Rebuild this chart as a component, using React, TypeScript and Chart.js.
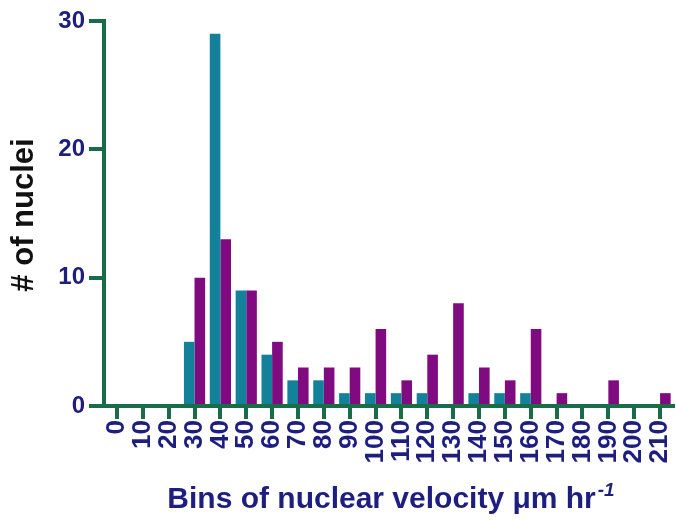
import React, { useEffect, useRef } from "react";
import { Chart, registerables } from "chart.js";

Chart.register(...registerables);

const categories = ["0","10","20","30","40","50","60","70","80","90","100","110","120","130","140","150","160","170","180","190","200","210"];
const seriesTeal = [0,0,0,5,29,9,4,2,2,1,1,1,1,0,1,1,1,0,0,0,0,0];
const seriesPurple = [0,0,0,10,13,9,5,3,3,3,6,2,4,8,3,2,6,1,0,2,0,1];
const yTicks = [0, 10, 20, 30];

const yTitle = "# of nuclei";
const xTitleMain = "Bins of nuclear velocity \u03bcm hr";
const xTitleSup = "-1";

const FONT = "'Liberation Sans', Arial, Helvetica, sans-serif";
const NAVY = "#1e1e80";
const GREEN = "#186c48";
const TEAL = "#13819a";
const PURPLE = "#800a80";

const titlePlugin = {
  id: "customTitles",
  afterDraw(chart: any) {
    const ctx = chart.ctx;
    ctx.save();
    ctx.fillStyle = "#111111";
    ctx.font = `bold 31px ${FONT}`;
    ctx.textAlign = "center";
    ctx.textBaseline = "middle";
    ctx.translate(24, 215);
    ctx.rotate(-Math.PI / 2);
    ctx.fillText(yTitle, 0, 0);
    ctx.restore();

    ctx.save();
    ctx.fillStyle = NAVY;
    ctx.textBaseline = "alphabetic";
    ctx.textAlign = "left";
    ctx.font = `bold 30px ${FONT}`;
    const mainW = ctx.measureText(xTitleMain).width;
    ctx.font = `italic bold 19px ${FONT}`;
    const supW = ctx.measureText(xTitleSup).width;
    const total = mainW + supW + 2;
    const x0 = 391 - total / 2;
    ctx.font = `bold 30px ${FONT}`;
    ctx.fillText(xTitleMain, x0, 508);
    ctx.font = `italic bold 19px ${FONT}`;
    ctx.fillText(xTitleSup, x0 + mainW + 2, 496);
    ctx.restore();
  },
};

export default function App() {
  const ref = useRef<HTMLCanvasElement | null>(null);
  useEffect(() => {
    if (!ref.current) return;
    const chart = new Chart(ref.current, {
      type: "bar",
      data: {
        labels: categories,
        datasets: [
          { data: seriesTeal, backgroundColor: TEAL, borderWidth: 0 },
          { data: seriesPurple, backgroundColor: PURPLE, borderWidth: 0 },
        ],
      },
      plugins: [titlePlugin],
      options: {
        animation: false,
        responsive: false,
        maintainAspectRatio: false,
        layout: { padding: { top: 21, right: 3, left: 0, bottom: 0 } },
        datasets: { bar: { categoryPercentage: 0.82, barPercentage: 1 } },
        plugins: { legend: { display: false }, tooltip: { enabled: false }, title: { display: false } },
        scales: {
          x: {
            offset: true,
            grid: { display: true, drawOnChartArea: false, offset: false, tickLength: 13, lineWidth: 4, color: GREEN },
            border: { display: true, width: 4, color: GREEN },
            ticks: {
              autoSkip: false,
              minRotation: 90,
              maxRotation: 90,
              padding: 1,
              color: NAVY,
              font: { family: FONT, size: 26, weight: "bold" },
            },
            afterFit: (s: any) => {
              s.height = 114;
              s.paddingLeft = 0;
              s.paddingRight = 0;
            },
          },
          y: {
            min: 0,
            max: 30,
            afterBuildTicks: (s: any) => {
              s.ticks = yTicks.map((v) => ({ value: v }));
            },
            grid: { display: true, drawOnChartArea: false, tickLength: 15, lineWidth: 4, color: GREEN },
            border: { display: true, width: 4, color: GREEN },
            ticks: {
              padding: 4,
              color: NAVY,
              font: { family: FONT, size: 24, weight: "bold" },
            },
            afterFit: (s: any) => {
              s.width = 104;
            },
          },
        },
      },
    });
    return () => chart.destroy();
  }, []);
  return (
    <div style={{ position: "fixed", left: 0, top: 0, width: 676, height: 520, background: "#fff" }}>
      <canvas ref={ref} width={676} height={520} style={{ width: 676, height: 520 }} />
    </div>
  );
}
